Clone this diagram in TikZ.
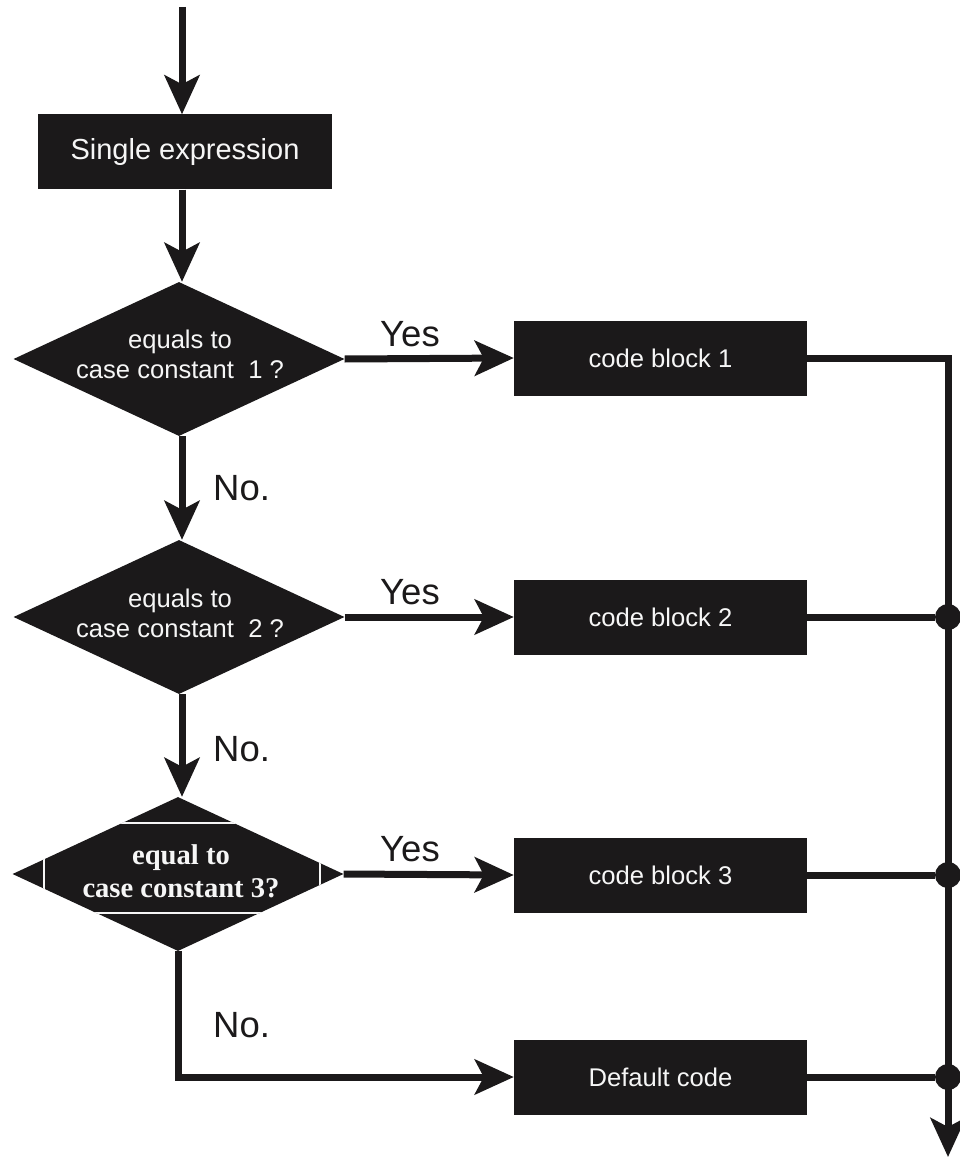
\documentclass[tikz,border=0pt]{standalone}
\usepackage{fontspec}
\setmainfont{Liberation Sans}
\newfontfamily\serifface{Liberation Serif}
\usetikzlibrary{shapes.geometric,arrows.meta}

\definecolor{ink}{RGB}{27,25,26}
\definecolor{paper}{RGB}{246,246,246}

\tikzset{
  flow/.style={draw=ink, line width=7pt, line join=miter},
  arr/.style={flow, -{Stealth[length=39pt, width=35pt, inset=9pt]}},
  block/.style={rectangle, fill=ink, draw=none, inner sep=0pt,
    minimum width=293pt, minimum height=75pt, text=paper,
    font=\fontsize{25.6}{30}\selectfont},
  startbox/.style={block, minimum width=294pt,
    font=\fontsize{29}{34}\selectfont},
  decision/.style={diamond, fill=ink, draw=none, inner sep=0pt,
    minimum width=331pt, minimum height=154pt},
  dtext/.style={text=paper, align=center, inner sep=0pt,
    font=\fontsize{25.6}{30}\selectfont},
  dtextserif/.style={text=paper, align=center, inner sep=0pt,
    font=\serifface\bfseries\fontsize{28.6}{33}\selectfont},
  answer/.style={text=ink, inner sep=0pt, anchor=base west,
    font=\fontsize{36.5}{40}\selectfont},
  junction/.style={circle, fill=ink, draw=none, inner sep=0pt,
    minimum size=26pt}
}

\begin{document}
\begin{tikzpicture}[x=1pt, y=-1pt]
  \useasboundingbox (0,0) rectangle (960,1158);

  % entry point and the expression box
  \coordinate (top) at (182,7);
  \node[startbox] (start) at (185,152) {Single expression};

  % the three comparisons
  \node[decision] (d1) at (179,359) {};
  \node[dtext] (d1t) at (180,354) {equals to\\case constant~~1 ?};
  \node[decision] (d2) at (179,617) {};
  \node[dtext] (d2t) at (180,613) {equals to\\case constant~~2 ?};
  \node[decision] (d3) at (178,874) {};
  \node[dtextserif] (d3t) at (181,871) {equal to\\case constant 3?};

  % white frame around the third comparison's text, kept inside the diamond
  \begin{scope}
    \clip (d3.north) -- (d3.east) -- (d3.south) -- (d3.west) -- cycle;
    \draw[paper, line width=1.6pt] (44,823) rectangle (320,913);
  \end{scope}

  % code blocks
  \node[block] (b1) at (660.5,358) {code block 1};
  \node[block] (b2) at (660.5,617) {code block 2};
  \node[block] (b3) at (660.5,875) {code block 3};
  \node[block] (bd) at (660.5,1077) {Default code};

  % exit rail
  \coordinate (railend) at (948,1157);
  \node[junction] (j2) at (b2.east -| railend) {};
  \node[junction] (j3) at (b3.east -| railend) {};
  \node[junction] (jd) at (bd.east -| railend) {};

  % main flow
  \draw[arr] (top) -- (top |- start.north);
  \draw[arr] (top |- start.south) -- (top |- d1.north);
  \draw[arr] (top |- d1.south) -- (top |- d2.north);
  \draw[arr] (top |- d2.south) -- (top |- d3.north);
  \draw[arr] (d3.south) -- (d3.south |- bd.west) -- (bd.west);

  % branches to the code blocks
  \draw[arr] (d1.east) -- (b1.west);
  \draw[arr] (d2.east) -- (b2.west);
  \draw[arr] (d3.east) -- (b3.west);

  % joins to the exit rail
  \draw[arr] (b1.east) -- (b1.east -| railend) -- (railend);
  \draw[flow] (b2.east) -- (j2);
  \draw[flow] (b3.east) -- (j3);
  \draw[flow] (bd.east) -- (jd);

  % branch labels
  \node[answer] (y1) at (380,346) {Yes};
  \node[answer] (y2) at (380,604) {Yes};
  \node[answer] (y3) at (380,861) {Yes};
  \node[answer] (n1) at (213,500) {No.};
  \node[answer] (n2) at (213,761) {No.};
  \node[answer] (n3) at (213,1037) {No.};
\end{tikzpicture}
\end{document}
